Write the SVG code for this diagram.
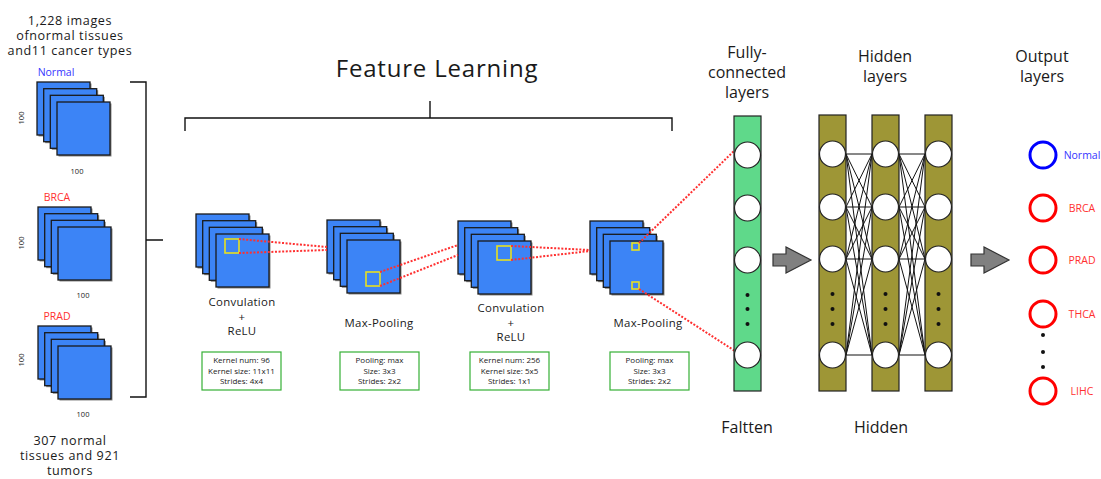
<svg xmlns="http://www.w3.org/2000/svg" width="1101" height="479" viewBox="0 0 1101 479">
<style>
text{font-family:"Open Sans","Liberation Sans",sans-serif;fill:#1a1a1a}
.t15{font-size:12.6px;text-anchor:middle;letter-spacing:0.6px}
.t16{font-size:16px;text-anchor:middle}
.t12{font-size:11.4px;text-anchor:middle;letter-spacing:0.3px}
.t8{font-size:8px;text-anchor:middle}
.t100{font-size:7.5px;text-anchor:middle}
.lblB{font-size:10.5px;text-anchor:middle;fill:#3535ff}
.lblR{font-size:10.5px;text-anchor:middle;fill:#ff3030}
.sq{fill:#3c84f6;stroke:#1a1a1a;stroke-width:1.3}
.sh{fill:#888}
.br{fill:none;stroke:#111;stroke-width:1.4}
.box{fill:#fff;stroke:#35b035;stroke-width:1.2}
.red{fill:none;stroke:#ff3030;stroke-width:2;stroke-dasharray:2 1.6}
.ysq{fill:none;stroke:#e8e020;stroke-width:1.6}
.node{fill:#fff;stroke:#222;stroke-width:1.2}
.dot{fill:#111}
.fc{fill:#5fd98a;stroke:#222;stroke-width:1.2}
.hid{fill:#9e9636;stroke:#222;stroke-width:1.2}
.arr{fill:#808080;stroke:#333;stroke-width:1.2}
.cn{stroke:#111;stroke-width:1}
.oB{fill:none;stroke:#0000ff;stroke-width:3}
.oR{fill:none;stroke:#ff0000;stroke-width:3}
</style>
<defs>
<g id="stack">
<rect class="sh" x="1.5" y="1.5" width="53" height="53"/><rect class="sq" x="0" y="0" width="53" height="53"/>
<rect class="sh" x="8.2" y="8.2" width="53" height="53"/><rect class="sq" x="6.7" y="6.7" width="53" height="53"/>
<rect class="sh" x="14.8" y="14.8" width="53" height="53"/><rect class="sq" x="13.3" y="13.3" width="53" height="53"/>
<rect class="sh" x="21.5" y="21.5" width="53" height="53"/><rect class="sq" x="20" y="20" width="53" height="53"/>
</g>
</defs>

<g id="input-title">
<text class="t15" x="70" y="25">1,228 images</text>
<text class="t15" x="70" y="40">ofnormal tissues</text>
<text class="t15" x="70" y="55">and11 cancer types</text>
</g>
<g id="input-normal">
<text class="lblB" x="56" y="76">Normal</text>
<use href="#stack" x="37" y="82"/>
<text class="t100" transform="translate(24,118) rotate(-90)">100</text>
<text class="t100" x="77" y="174">100</text>
</g>
<g id="input-brca">
<text class="lblR" x="57" y="201">BRCA</text>
<use href="#stack" x="38" y="207"/>
<text class="t100" transform="translate(24,243) rotate(-90)">100</text>
<text class="t100" x="83" y="298">100</text>
</g>
<g id="input-prad">
<text class="lblR" x="57" y="320">PRAD</text>
<use href="#stack" x="38" y="326"/>
<text class="t100" transform="translate(24,360) rotate(-90)">100</text>
<text class="t100" x="83" y="417">100</text>
</g>
<g id="input-caption">
<text class="t15" x="70" y="445">307 normal</text>
<text class="t15" x="70" y="460">tissues and 921</text>
<text class="t15" x="70" y="475">tumors</text>
</g>
<g id="input-bracket">
<path class="br" d="M130 82H146V397H130M146 240H163"/>
</g>

<g id="feature-learning">
<text x="437" y="77" style="font-size:24px;text-anchor:middle;letter-spacing:0.8px">Feature Learning</text>
<path class="br" d="M185 131V118H672V131M430 101V118"/>
</g>

<g id="conv1">
<use href="#stack" x="196" y="214"/>
<rect class="ysq" x="225" y="239" width="14" height="14"/>
<text class="t12" x="242" y="306">Convulation</text>
<text class="t12" x="242" y="321">+</text>
<text class="t12" x="242" y="335">ReLU</text>
<rect class="box" x="202" y="352" width="79" height="38"/>
<text class="t8" x="241.5" y="363">Kernel num: 96</text>
<text class="t8" x="241.5" y="374">Kernel size: 11x11</text>
<text class="t8" x="241.5" y="384">Strides: 4x4</text>
</g>
<g id="pool1">
<use href="#stack" x="327" y="220"/>
<rect class="ysq" x="366" y="272" width="14" height="14"/>
<text class="t12" x="379" y="327">Max-Pooling</text>
<rect class="box" x="340" y="352" width="79" height="38"/>
<text class="t8" x="379.5" y="363">Pooling: max</text>
<text class="t8" x="379.5" y="374">Size: 3x3</text>
<text class="t8" x="379.5" y="384">Strides: 2x2</text>
</g>
<g id="conv2">
<use href="#stack" x="458" y="221"/>
<rect class="ysq" x="497" y="246" width="14" height="14"/>
<text class="t12" x="511" y="312">Convulation</text>
<text class="t12" x="511" y="327">+</text>
<text class="t12" x="511" y="341">ReLU</text>
<rect class="box" x="470" y="352" width="79" height="38"/>
<text class="t8" x="509.5" y="363">Kernel num: 256</text>
<text class="t8" x="509.5" y="374">Kernel size: 5x5</text>
<text class="t8" x="509.5" y="384">Strides: 1x1</text>
</g>
<g id="pool2">
<use href="#stack" x="590" y="221"/>
<rect class="ysq" x="632" y="243" width="7" height="7"/>
<rect class="ysq" x="632" y="282" width="7" height="7"/>
<text class="t12" x="648" y="327">Max-Pooling</text>
<rect class="box" x="610" y="352" width="79" height="38"/>
<text class="t8" x="649.5" y="363">Pooling: max</text>
<text class="t8" x="649.5" y="374">Size: 3x3</text>
<text class="t8" x="649.5" y="384">Strides: 2x2</text>
</g>

<g id="connectors">
<path class="red" d="M239 239L327 247M239 253L327 250"/>
<path class="red" d="M380 272L458 245M380 286L458 255"/>
<path class="red" d="M511 246L590 250M511 260L590 251"/>
<path class="red" d="M639 243L735 150M639 289L735 351"/>
<polygon class="arr" points="773,254 786,254 786,247 811,260 786,273 786,266 773,266"/>
<polygon class="arr" points="971,254 984,254 984,247 1009,260 984,273 984,266 971,266"/>
<g id="dense-links">
<path class="cn" d="M846 154L872 154M846 154L872 207M846 154L872 259M846 154L872 355M846 207L872 154M846 207L872 207M846 207L872 259M846 207L872 355M846 259L872 154M846 259L872 207M846 259L872 259M846 259L872 355M846 355L872 154M846 355L872 207M846 355L872 259M846 355L872 355"/>
<path class="cn" d="M899 154L925 154M899 154L925 207M899 154L925 259M899 154L925 355M899 207L925 154M899 207L925 207M899 207L925 259M899 207L925 355M899 259L925 154M899 259L925 207M899 259L925 259M899 259L925 355M899 355L925 154M899 355L925 207M899 355L925 259M899 355L925 355"/>
</g>
</g>

<g id="flatten">
<text class="t16" x="747" y="58">Fully-</text>
<text class="t16" x="747" y="78">connected</text>
<text class="t16" x="747" y="98">layers</text>
<rect class="fc" x="734" y="116" width="27" height="275"/>
<circle class="node" cx="747.5" cy="155" r="13"/>
<circle class="node" cx="747.5" cy="208" r="13"/>
<circle class="node" cx="747.5" cy="260" r="13"/>
<circle class="dot" cx="747.5" cy="295" r="2"/>
<circle class="dot" cx="747.5" cy="309" r="2"/>
<circle class="dot" cx="747.5" cy="324" r="2"/>
<circle class="node" cx="747.5" cy="355" r="13"/>
<text class="t16" x="747" y="433">Faltten</text>
</g>

<g id="hidden">
<text class="t16" x="885" y="62">Hidden</text>
<text class="t16" x="885" y="82">layers</text>
<rect class="hid" x="819" y="115" width="27" height="276"/>
<rect class="hid" x="872" y="115" width="27" height="276"/>
<rect class="hid" x="925" y="115" width="27" height="276"/>
<g id="hidden-nodes">
<circle class="node" cx="832.5" cy="154" r="13"/><circle class="node" cx="832.5" cy="207" r="13"/><circle class="node" cx="832.5" cy="259" r="13"/><circle class="node" cx="832.5" cy="355" r="13"/>
<circle class="node" cx="885.5" cy="154" r="13"/><circle class="node" cx="885.5" cy="207" r="13"/><circle class="node" cx="885.5" cy="259" r="13"/><circle class="node" cx="885.5" cy="355" r="13"/>
<circle class="node" cx="938.5" cy="154" r="13"/><circle class="node" cx="938.5" cy="207" r="13"/><circle class="node" cx="938.5" cy="259" r="13"/><circle class="node" cx="938.5" cy="355" r="13"/>
<circle class="dot" cx="832.5" cy="294" r="2"/><circle class="dot" cx="832.5" cy="309" r="2"/><circle class="dot" cx="832.5" cy="324" r="2"/>
<circle class="dot" cx="885.5" cy="294" r="2"/><circle class="dot" cx="885.5" cy="309" r="2"/><circle class="dot" cx="885.5" cy="324" r="2"/>
<circle class="dot" cx="938.5" cy="294" r="2"/><circle class="dot" cx="938.5" cy="309" r="2"/><circle class="dot" cx="938.5" cy="324" r="2"/>
</g>
<text class="t16" x="881" y="433">Hidden</text>
</g>

<g id="output">
<text class="t16" x="1042" y="62">Output</text>
<text class="t16" x="1042" y="82">layers</text>
<circle class="oB" cx="1043" cy="155" r="13"/>
<text class="lblB" x="1082" y="159">Normal</text>
<circle class="oR" cx="1043" cy="208" r="13"/>
<text class="lblR" x="1082" y="212">BRCA</text>
<circle class="oR" cx="1043" cy="260" r="13"/>
<text class="lblR" x="1082" y="264">PRAD</text>
<circle class="oR" cx="1043" cy="314" r="13"/>
<text class="lblR" x="1082" y="318">THCA</text>
<circle class="dot" cx="1043" cy="335" r="2"/>
<circle class="dot" cx="1043" cy="352" r="2"/>
<circle class="dot" cx="1043" cy="367" r="2"/>
<circle class="oR" cx="1043" cy="391" r="13"/>
<text class="lblR" x="1082" y="395">LIHC</text>
</g>
</svg>
